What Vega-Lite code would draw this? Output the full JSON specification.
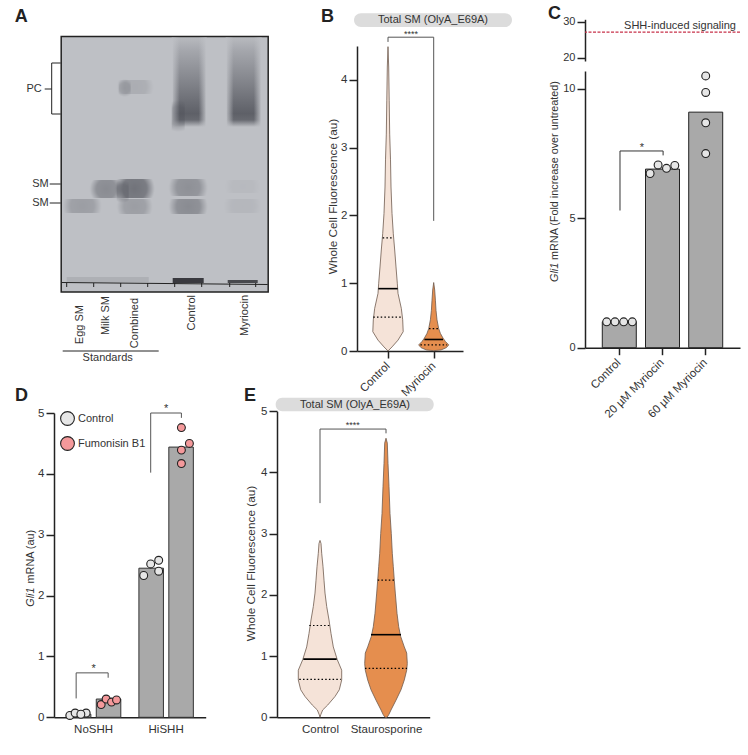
{"$schema":"https://vega.github.io/schema/vega-lite/v6.json","padding":{"left":14,"top":5,"right":0,"bottom":0},"background":"white","bounds":"flush","align":"none","columns":4,"spacing":{"column":10,"row":30},"resolve":{"scale":{"fill":"independent"},"legend":{"fill":"independent"}},
"config":{"view":{"stroke":null},"text":{"font":"Liberation Sans","fontSize":11,"color":"#333"},"axis":{"grid":false,"labelFont":"Liberation Sans","titleFont":"Liberation Sans","labelFontSize":11.5,"titleFontSize":11.8,"titleFontWeight":"normal","labelColor":"#333","titleColor":"#333","domainColor":"#222","tickColor":"#222","domainWidth":1.5,"tickWidth":1.5,"tickSize":8,"labelPadding":2}},
"concat":[
{"width":213,"height":360,"layer":[
{"data":{"values":[{"a":60.5,"b":267.5,"c":36.5,"d":292}]},"mark":{"type":"rect","fill":"#bec0c5","stroke":"#222","strokeWidth":1.5},"encoding":{"x":{"field":"a","type":"quantitative","scale":{"domain":[53.3,266.3],"range":[0,213],"nice":false,"zero":false},"axis":null},"x2":{"field":"b"},"y":{"field":"c","type":"quantitative","scale":{"domain":[10,370],"range":[0,360],"nice":false,"zero":false},"axis":null},"y2":{"field":"d"}}},
{"data":{"values":[{"a":172,"b":205,"c":38,"d":127,"o":1},{"a":226,"b":260,"c":38,"d":127,"o":1}]},
"mark":{"type":"rect","fill":{"gradient":"linear","x1":0,"y1":0,"x2":0,"y2":1,"stops":[{"offset":0,"color":"rgba(70,72,80,0.06)"},{"offset":0.15,"color":"rgba(70,72,80,0.22)"},{"offset":0.5,"color":"rgba(70,72,80,0.5)"},{"offset":0.85,"color":"rgba(70,72,80,0.8)"},{"offset":0.92,"color":"rgba(70,72,80,0.72)"},{"offset":1,"color":"rgba(70,72,80,0)"}]}},"encoding":{"x":{"field":"a","type":"quantitative"},"x2":{"field":"b"},"y":{"field":"c","type":"quantitative"},"y2":{"field":"d"},"opacity":{"field":"o","type":"quantitative","scale":null}}},
{"data":{"values":[{"a":171,"b":179,"c":37.5,"d":128},{"a":225,"b":233,"c":37.5,"d":128}]},"mark":{"type":"rect","fill":{"gradient":"linear","x1":0,"y1":0,"x2":1,"y2":0,"stops":[{"offset":0,"color":"rgba(190,192,197,1)"},{"offset":1,"color":"rgba(190,192,197,0)"}]}},"encoding":{"x":{"field":"a","type":"quantitative"},"x2":{"field":"b"},"y":{"field":"c","type":"quantitative"},"y2":{"field":"d"}}},
{"data":{"values":[{"a":198,"b":206,"c":37.5,"d":128},{"a":253,"b":261,"c":37.5,"d":128}]},"mark":{"type":"rect","fill":{"gradient":"linear","x1":0,"y1":0,"x2":1,"y2":0,"stops":[{"offset":0,"color":"rgba(190,192,197,0)"},{"offset":1,"color":"rgba(190,192,197,1)"}]}},"encoding":{"x":{"field":"a","type":"quantitative"},"x2":{"field":"b"},"y":{"field":"c","type":"quantitative"},"y2":{"field":"d"}}},
{"data":{"values":[
{"a":171,"b":184,"c":100,"d":132,"o":0.35},
{"a":116,"b":153,"c":80,"d":94,"o":0.2},{"a":118,"b":130,"c":79,"d":97,"o":0.28},
{"a":89,"b":122,"c":180,"d":198,"o":0.55},{"a":114,"b":154,"c":179,"d":198,"o":0.8},{"a":116,"b":128,"c":180,"d":203,"o":0.35},{"a":168,"b":207,"c":179,"d":196,"o":0.5},{"a":224,"b":260,"c":180,"d":193,"o":0.07},
{"a":62,"b":101,"c":199,"d":213,"o":0.36},{"a":116,"b":152,"c":199,"d":214,"o":0.36},{"a":168,"b":207,"c":199,"d":214,"o":0.55},{"a":223,"b":261,"c":199,"d":213,"o":0.1}]},
"mark":{"type":"rect","fill":{"gradient":"radial","x1":0.5,"y1":0.5,"r1":0,"x2":0.5,"y2":0.5,"r2":0.5,"stops":[{"offset":0,"color":"rgba(70,72,80,0.8)"},{"offset":0.6,"color":"rgba(70,72,80,0.7)"},{"offset":1,"color":"rgba(70,72,80,0)"}]}},"encoding":{"x":{"field":"a","type":"quantitative"},"x2":{"field":"b"},"y":{"field":"c","type":"quantitative"},"y2":{"field":"d"},"opacity":{"field":"o","type":"quantitative","scale":null}}},
{"data":{"values":[{"a":172,"b":203,"c":278,"d":283,"o":0.9},{"a":227,"b":257,"c":280,"d":283,"o":0.8},{"a":66,"b":148,"c":277,"d":282,"o":0.1}]},"mark":{"type":"rect","fill":"#2a2a30"},"encoding":{"x":{"field":"a","type":"quantitative"},"x2":{"field":"b"},"y":{"field":"c","type":"quantitative"},"y2":{"field":"d"},"opacity":{"field":"o","type":"quantitative","scale":null}}},
{"data":{"values":[
{"id":"gel","i":0,"x":61,"y":282.5},{"id":"gel","i":1,"x":267,"y":284.5},
{"id":"pc","i":0,"x":60,"y":63},{"id":"pc","i":1,"x":51,"y":63},{"id":"pc","i":2,"x":51,"y":114},{"id":"pc","i":3,"x":60,"y":114},
{"id":"pct","i":0,"x":44,"y":89},{"id":"pct","i":1,"x":51,"y":89},
{"id":"sm1","i":0,"x":49,"y":184},{"id":"sm1","i":1,"x":60,"y":184},
{"id":"sm2","i":0,"x":49,"y":203},{"id":"sm2","i":1,"x":60,"y":203},
{"id":"std","i":0,"x":62,"y":351},{"id":"std","i":1,"x":158,"y":351},
{"id":"l1","i":0,"x":66,"y":283},{"id":"l1","i":1,"x":66,"y":287},{"id":"l2","i":0,"x":93,"y":283},{"id":"l2","i":1,"x":93,"y":287},{"id":"l3","i":0,"x":120,"y":283},{"id":"l3","i":1,"x":120,"y":287},{"id":"l4","i":0,"x":147,"y":283},{"id":"l4","i":1,"x":147,"y":287},{"id":"l5","i":0,"x":174,"y":283},{"id":"l5","i":1,"x":174,"y":287},{"id":"l6","i":0,"x":201,"y":283},{"id":"l6","i":1,"x":201,"y":287},{"id":"l7","i":0,"x":229,"y":283},{"id":"l7","i":1,"x":229,"y":287},{"id":"l8","i":0,"x":255,"y":283},{"id":"l8","i":1,"x":255,"y":287}]},
"mark":{"type":"line","color":"#222","strokeWidth":1,"interpolate":"linear"},"encoding":{"x":{"field":"x","type":"quantitative"},"y":{"field":"y","type":"quantitative"},"detail":{"field":"id"},"order":{"field":"i"}}},
{"data":{"values":[{"t":"PC","x":41,"y":89},{"t":"SM","x":48,"y":184},{"t":"SM","x":48,"y":203}]},"mark":{"type":"text","align":"right","baseline":"middle"},"encoding":{"x":{"field":"x","type":"quantitative"},"y":{"field":"y","type":"quantitative"},"text":{"field":"t"}}},
{"data":{"values":[{"t":"Egg SM","x":79,"y":305},{"t":"Milk SM","x":105,"y":296},{"t":"Combined","x":134,"y":298},{"t":"Control","x":191,"y":295},{"t":"Myriocin","x":244,"y":295}]},"mark":{"type":"text","align":"right","baseline":"middle","angle":270},"encoding":{"x":{"field":"x","type":"quantitative"},"y":{"field":"y","type":"quantitative"},"text":{"field":"t"}}},
{"data":{"values":[{"t":"Standards","x":107,"y":358}]},"mark":{"type":"text","align":"center","baseline":"middle"},"encoding":{"x":{"field":"x","type":"quantitative"},"y":{"field":"y","type":"quantitative"},"text":{"field":"t"}}},
{"data":{"values":[{"t":"A","x":14,"y":22}]},"mark":{"type":"text","align":"left","baseline":"alphabetic","fontSize":18,"fontWeight":"bold","color":"#222"},"encoding":{"x":{"field":"x","type":"quantitative"},"y":{"field":"y","type":"quantitative"},"text":{"field":"t"}}}
]},
{"width":69.7,"height":10,"data":{"values":[{"a":0}]},"mark":{"type":"point","opacity":0},"encoding":{}},
{"width":218,"height":341,"layer":[
{"data":{"values":[{"a":-3,"b":155,"c":4.985,"d":4.78}]},"mark":{"type":"rect","fill":"#dcdcdc","cornerRadius":7},"encoding":{"x":{"field":"a","type":"quantitative","scale":{"domain":[0,106],"range":[0,106],"nice":false,"zero":false},"axis":{"values":[31,76.7],"labelExpr":"datum.value<50?'Control':'Myriocin'","labelAngle":-45,"labelAlign":"right","labelBaseline":"middle","title":null,"tickSize":7,"labelPadding":6}},"x2":{"field":"b"},"y":{"field":"c","type":"quantitative","scale":{"domain":[0,4.5],"range":[341,36],"nice":false,"zero":false},"axis":{"values":[0,1,2,3,4],"format":"d","title":"Whole Cell Fluorescence (au)","titleX":-19,"titleY":186}},"y2":{"field":"d"}}},
{"data":{"values":[{"t":"Total SM (OlyA_E69A)","x":76,"y":4.88}]},"mark":{"type":"text","baseline":"middle"},"encoding":{"x":{"field":"x","type":"quantitative"},"y":{"field":"y","type":"quantitative"},"text":{"field":"t"}}},
{"data":{"values":[
{"g":"Control","v":0,"lo":31,"hi":31},{"g":"Control","v":0.06,"lo":27,"hi":35},{"g":"Control","v":0.16,"lo":21,"hi":41},{"g":"Control","v":0.285,"lo":15.8,"hi":46.2},{"g":"Control","v":0.46,"lo":16.3,"hi":45.7},{"g":"Control","v":0.63,"lo":17.7,"hi":44.3},{"g":"Control","v":0.85,"lo":21,"hi":41},{"g":"Control","v":1.0,"lo":21.7,"hi":40.3},{"g":"Control","v":1.24,"lo":23,"hi":39},{"g":"Control","v":1.49,"lo":24.3,"hi":37.7},{"g":"Control","v":1.73,"lo":25.7,"hi":36.3},{"g":"Control","v":2.03,"lo":27,"hi":35},{"g":"Control","v":2.42,"lo":28,"hi":34},{"g":"Control","v":2.82,"lo":28.5,"hi":33.5},{"g":"Control","v":3.2,"lo":29.3,"hi":32.7},{"g":"Control","v":3.7,"lo":29.8,"hi":32.2},{"g":"Control","v":4.19,"lo":30.3,"hi":31.7},{"g":"Control","v":4.49,"lo":31,"hi":31},
{"g":"Treated","v":0.005,"lo":76.7,"hi":76.7},{"g":"Treated","v":0.015,"lo":69.4,"hi":84},{"g":"Treated","v":0.05,"lo":64,"hi":89.4},{"g":"Treated","v":0.09,"lo":61.7,"hi":91.7},{"g":"Treated","v":0.14,"lo":65,"hi":88.4},{"g":"Treated","v":0.19,"lo":67.4,"hi":86},{"g":"Treated","v":0.26,"lo":70,"hi":83.4},{"g":"Treated","v":0.33,"lo":71.7,"hi":81.7},{"g":"Treated","v":0.46,"lo":73.4,"hi":80},{"g":"Treated","v":0.6,"lo":74.4,"hi":79},{"g":"Treated","v":0.75,"lo":75,"hi":78.4},{"g":"Treated","v":0.9,"lo":75.7,"hi":77.7},{"g":"Treated","v":1.01,"lo":76.7,"hi":76.7}]},
"mark":{"type":"area","orient":"horizontal","stroke":"#6e5a4e","strokeWidth":0.8},"encoding":{"x":{"field":"lo","type":"quantitative"},"x2":{"field":"hi"},"y":{"field":"v","type":"quantitative"},"fill":{"field":"g","type":"nominal","scale":{"domain":["Control","Treated"],"range":["#f5e3d8","#e58e4e"]},"legend":null}}},
{"data":{"values":[{"lo":21.3,"hi":40.7,"v":0.92},{"lo":67.4,"hi":86,"v":0.17}]},"mark":{"type":"rule","color":"#000","strokeWidth":1.6},"encoding":{"x":{"field":"lo","type":"quantitative"},"x2":{"field":"hi"},"y":{"field":"v","type":"quantitative"}}},
{"data":{"values":[{"lo":16.3,"hi":45.7,"v":0.5},{"lo":25.7,"hi":36.3,"v":1.67},{"lo":63.4,"hi":90,"v":0.09},{"lo":72,"hi":81.4,"v":0.33}]},"mark":{"type":"rule","color":"#000","strokeWidth":1.2,"strokeDash":[1.5,2.2]},"encoding":{"x":{"field":"lo","type":"quantitative"},"x2":{"field":"hi"},"y":{"field":"v","type":"quantitative"}}},
{"data":{"values":[{"i":0,"x":31,"y":4.56},{"i":1,"x":31,"y":4.63},{"i":2,"x":76.7,"y":4.63},{"i":3,"x":76.7,"y":1.92}]},"mark":{"type":"line","color":"#555","strokeWidth":1},"encoding":{"x":{"field":"x","type":"quantitative"},"y":{"field":"y","type":"quantitative"},"order":{"field":"i"}}},
{"data":{"values":[{"t":"****","x":54,"y":4.67}]},"mark":{"type":"text","fontSize":9,"baseline":"middle"},"encoding":{"x":{"field":"x","type":"quantitative"},"y":{"field":"y","type":"quantitative"},"text":{"field":"t"}}},
{"data":{"values":[{"t":"B"}]},"mark":{"type":"text","align":"left","baseline":"alphabetic","fontSize":18,"fontWeight":"bold","color":"#222","x":-36,"y":12},"encoding":{"text":{"field":"t"}}}
]},
{"width":155,"height":337.7,"layer":[
{"layer":[
{"data":{"values":[{"v":27.1}]},"mark":{"type":"rule","color":"#c8324a","strokeWidth":1.4,"strokeDash":[3,1.5]},"encoding":{"y":{"field":"v","type":"quantitative","scale":{"domain":[19.08,30.67],"range":[51,9.3],"nice":false,"zero":false},"axis":{"values":[20,30],"title":null,"orient":"left","labelFontSize":11}}}},
{"data":{"values":[{"t":"SHH-induced signaling","v":28.7}]},"mark":{"type":"text","align":"right","baseline":"middle","x":151},"encoding":{"y":{"field":"v","type":"quantitative"},"text":{"field":"t"}}}
]},
{"layer":[
{"data":{"values":[{"g":"Control","v":1},{"g":"20 µM Myriocin","v":6.9},{"g":"60 µM Myriocin","v":9.1}]},"mark":{"type":"bar","width":34,"fill":"#a9a9a9","stroke":"#222","strokeWidth":1},"encoding":{"x":{"field":"g","type":"nominal","sort":null,"scale":{"domain":["Control","20 µM Myriocin","60 µM Myriocin"],"paddingInner":0.213,"paddingOuter":0.4},"axis":{"labelAngle":-45,"labelAlign":"right","labelBaseline":"middle","title":null,"tickSize":7,"labelPadding":6}},"y":{"field":"v","type":"quantitative","scale":{"domain":[0,10.69],"range":[337.7,61],"nice":false},"axis":{"values":[0,5,10],"title":null,"orient":"left","labelFontSize":11}}}},
{"data":{"values":[{"g":"Control","o":-12.6,"v":1},{"g":"Control","o":-4.3,"v":1},{"g":"Control","o":4.4,"v":1},{"g":"Control","o":13,"v":1},{"g":"20 µM Myriocin","o":-12.4,"v":6.73},{"g":"20 µM Myriocin","o":-4.4,"v":7.06},{"g":"20 µM Myriocin","o":4,"v":6.93},{"g":"20 µM Myriocin","o":12.3,"v":7.04},{"g":"60 µM Myriocin","o":0,"v":10.5},{"g":"60 µM Myriocin","o":0,"v":9.86},{"g":"60 µM Myriocin","o":0,"v":8.69},{"g":"60 µM Myriocin","o":0,"v":7.5}]},"mark":{"type":"point","filled":true,"fill":"#e6e6e6","stroke":"#222","strokeWidth":1.1,"size":62,"opacity":1},"encoding":{"x":{"field":"g","type":"nominal"},"xOffset":{"field":"o","type":"quantitative","scale":{"domain":[-17,17],"range":[0,34]}},"y":{"field":"v","type":"quantitative"}}},
{"data":{"values":[{"i":0,"g":"Control","o":0.7,"v":5.3},{"i":1,"g":"Control","o":0.7,"v":7.6},{"i":2,"g":"20 µM Myriocin","o":0.6,"v":7.6},{"i":3,"g":"20 µM Myriocin","o":0.6,"v":7.43}]},"mark":{"type":"line","color":"#333","strokeWidth":1},"encoding":{"x":{"field":"g","type":"nominal"},"xOffset":{"field":"o","type":"quantitative","scale":{"domain":[-17,17],"range":[0,34]}},"y":{"field":"v","type":"quantitative"},"order":{"field":"i"}}},
{"data":{"values":[{"t":"*","g":"Control","o":22.7,"v":7.72}]},"mark":{"type":"text","fontSize":11,"baseline":"middle"},"encoding":{"x":{"field":"g","type":"nominal"},"xOffset":{"field":"o","type":"quantitative","scale":{"domain":[-17,17],"range":[0,34]}},"y":{"field":"v","type":"quantitative"},"text":{"field":"t"}}},
{"data":{"values":[{"t":"Gli1","v":2.54}]},"mark":{"type":"text","angle":270,"align":"left","baseline":"middle","fontStyle":"italic","x":-30,"fontSize":10.8},"encoding":{"y":{"field":"v","type":"quantitative"},"text":{"field":"t"}}},
{"data":{"values":[{"t":"mRNA (Fold increase over untreated)","v":3.39}]},"mark":{"type":"text","angle":270,"align":"left","baseline":"middle","x":-30,"fontSize":10.8},"encoding":{"y":{"field":"v","type":"quantitative"},"text":{"field":"t"}}}
]},
{"data":{"values":[{"t":"C"}]},"mark":{"type":"text","align":"left","baseline":"alphabetic","fontSize":18,"fontWeight":"bold","color":"#222","x":-37,"y":9},"encoding":{"text":{"field":"t"}}}
],"resolve":{"scale":{"y":"independent","xOffset":"independent"},"axis":{"y":"independent"}}},
{"width":213,"height":317.3,"layer":[
{"data":{"values":[{"g":"NoSHH","c":"Control","v":0.05},{"g":"NoSHH","c":"Fumonisin B1","v":0.3},{"g":"HiSHH","c":"Control","v":2.45},{"g":"HiSHH","c":"Fumonisin B1","v":4.44}]},"mark":{"type":"bar","fill":"#a9a9a9","stroke":"#333","strokeWidth":1},"encoding":{"x":{"field":"g","type":"nominal","sort":null,"scale":{"domain":["NoSHH","HiSHH"],"range":[0,151.7],"paddingInner":0.175,"paddingOuter":0.133},"axis":{"labelAngle":0,"title":null,"ticks":false,"labelPadding":6}},"xOffset":{"field":"c","type":"nominal","scale":{"domain":["Control","Fumonisin B1"],"paddingInner":0.18,"paddingOuter":0.09}},"y":{"field":"v","type":"quantitative","scale":{"domain":[0,5],"range":[317.3,13],"nice":false},"axis":{"values":[0,1,2,3,4,5],"format":"d","title":null}}}},
{"data":{"values":[{"g":"NoSHH","c":"Control","o":-23.8,"v":0.03},{"g":"NoSHH","c":"Control","o":-18.5,"v":0.07},{"g":"NoSHH","c":"Control","o":-7.5,"v":0.07},{"g":"NoSHH","c":"Control","o":-12.8,"v":0.05},{"g":"NoSHH","c":"Fumonisin B1","o":7.5,"v":0.21},{"g":"NoSHH","c":"Fumonisin B1","o":12.5,"v":0.3},{"g":"NoSHH","c":"Fumonisin B1","o":17.9,"v":0.25},{"g":"NoSHH","c":"Fumonisin B1","o":22.9,"v":0.285},{"g":"HiSHH","c":"Control","o":-22.5,"v":2.33},{"g":"HiSHH","c":"Control","o":-15.5,"v":2.52},{"g":"HiSHH","c":"Control","o":-7.5,"v":2.58},{"g":"HiSHH","c":"Control","o":-7.5,"v":2.4},{"g":"HiSHH","c":"Fumonisin B1","o":15.2,"v":4.76},{"g":"HiSHH","c":"Fumonisin B1","o":15.2,"v":4.39},{"g":"HiSHH","c":"Fumonisin B1","o":15.2,"v":4.17},{"g":"HiSHH","c":"Fumonisin B1","o":23.2,"v":4.5}]},"mark":{"type":"point","filled":true,"stroke":"#222","strokeWidth":1.1,"size":62,"opacity":1},"encoding":{"x":{"field":"g","type":"nominal"},"xOffset":{"field":"o","type":"quantitative","scale":{"domain":[-36,36],"range":[-6,66]}},"y":{"field":"v","type":"quantitative"},"fill":{"field":"c","type":"nominal","scale":{"domain":["Control","Fumonisin B1"],"range":["#e6e6e6","#f4999b"]},"legend":{"title":null,"orient":"none","legendX":6,"legendY":11,"symbolSize":190,"symbolStrokeColor":"#222","symbolStrokeWidth":1.1,"symbolOpacity":1,"labelFont":"Liberation Sans","labelFontSize":11,"labelColor":"#333","rowPadding":6,"labelOffset":3}}}},
{"data":{"values":[{"b":"a","i":0,"g":"NoSHH","o":-17.5,"v":0.31},{"b":"a","i":1,"g":"NoSHH","o":-17.5,"v":0.73},{"b":"a","i":2,"g":"NoSHH","o":14.5,"v":0.73},{"b":"a","i":3,"g":"NoSHH","o":14.5,"v":0.65},{"b":"b","i":0,"g":"HiSHH","o":-15.5,"v":4.02},{"b":"b","i":1,"g":"HiSHH","o":-15.5,"v":5},{"b":"b","i":2,"g":"HiSHH","o":15.2,"v":5},{"b":"b","i":3,"g":"HiSHH","o":15.2,"v":4.92}]},"mark":{"type":"line","color":"#555","strokeWidth":1},"encoding":{"x":{"field":"g","type":"nominal"},"xOffset":{"field":"o","type":"quantitative","scale":{"domain":[-36,36],"range":[-6,66]}},"y":{"field":"v","type":"quantitative"},"detail":{"field":"b"},"order":{"field":"i"}}},
{"data":{"values":[{"t":"*","g":"NoSHH","o":0,"v":0.8},{"t":"*","g":"HiSHH","o":0,"v":5.06}]},"mark":{"type":"text","baseline":"middle","fontSize":11},"encoding":{"x":{"field":"g","type":"nominal"},"xOffset":{"field":"o","type":"quantitative","scale":{"domain":[-36,36],"range":[-6,66]}},"y":{"field":"v","type":"quantitative"},"text":{"field":"t"}}},
{"data":{"values":[{"t":"Gli1","v":1.817}]},"mark":{"type":"text","angle":270,"align":"left","baseline":"middle","fontStyle":"italic","x":-23,"fontSize":10.8},"encoding":{"y":{"field":"v","type":"quantitative"},"text":{"field":"t"}}},
{"data":{"values":[{"t":"mRNA  (au)","v":2.2}]},"mark":{"type":"text","angle":270,"align":"left","baseline":"middle","x":-23,"fontSize":10.8},"encoding":{"y":{"field":"v","type":"quantitative"},"text":{"field":"t"}}},
{"data":{"values":[{"t":"D"}]},"mark":{"type":"text","align":"left","baseline":"alphabetic","fontSize":18,"fontWeight":"bold","color":"#222","x":-39,"y":1},"encoding":{"text":{"field":"t"}}}
],"resolve":{"scale":{"xOffset":"independent"}}},
{"width":69.7,"height":317.3,"layer":[
{"data":{"values":[{"a":-1.3,"b":156.7,"c":5.22,"d":5.0}]},"mark":{"type":"rect","fill":"#dcdcdc","cornerRadius":6.5},"encoding":{"x":{"field":"a","type":"quantitative","scale":{"domain":[0,152.7],"range":[0,152.7],"nice":false,"zero":false},"axis":{"values":[43,109],"labelExpr":"datum.value<50?'Control':'Staurosporine'","labelAngle":0,"title":null,"ticks":false,"labelPadding":6}},"x2":{"field":"b"},"y":{"field":"c","type":"quantitative","scale":{"domain":[0,5],"range":[317.3,11.3],"nice":false,"zero":false},"axis":{"values":[0,1,2,3,4,5],"format":"d","title":"Whole Cell Fluorescence (au)","titleX":-21,"titleY":163}},"y2":{"field":"d"}}},
{"data":{"values":[{"t":"Total SM (OlyA_E69A)","x":78,"y":5.11}]},"mark":{"type":"text","baseline":"middle"},"encoding":{"x":{"field":"x","type":"quantitative"},"y":{"field":"y","type":"quantitative"},"text":{"field":"t"}}},
{"data":{"values":[
{"g":"Control","v":0,"lo":43,"hi":43},{"g":"Control","v":0.04,"lo":42.3,"hi":43.7},{"g":"Control","v":0.12,"lo":40.3,"hi":45.7},{"g":"Control","v":0.2,"lo":35.3,"hi":50.7},{"g":"Control","v":0.34,"lo":28,"hi":58},{"g":"Control","v":0.45,"lo":23.7,"hi":62.3},{"g":"Control","v":0.61,"lo":21.3,"hi":64.7},{"g":"Control","v":0.77,"lo":21.3,"hi":64.7},{"g":"Control","v":0.94,"lo":25.7,"hi":60.3},{"g":"Control","v":1.15,"lo":29.7,"hi":56.3},{"g":"Control","v":1.37,"lo":32,"hi":54},{"g":"Control","v":1.59,"lo":34,"hi":52},{"g":"Control","v":1.81,"lo":36.3,"hi":49.7},{"g":"Control","v":2.03,"lo":38,"hi":48},{"g":"Control","v":2.24,"lo":39,"hi":47},{"g":"Control","v":2.46,"lo":40,"hi":46},{"g":"Control","v":2.68,"lo":41.3,"hi":44.7},{"g":"Control","v":2.84,"lo":42,"hi":44},{"g":"Control","v":2.89,"lo":43,"hi":43},
{"g":"Treated","v":0,"lo":108,"hi":110},{"g":"Treated","v":0.04,"lo":106.3,"hi":111.7},{"g":"Treated","v":0.12,"lo":104,"hi":114},{"g":"Treated","v":0.28,"lo":99,"hi":119},{"g":"Treated","v":0.45,"lo":94,"hi":124},{"g":"Treated","v":0.61,"lo":90.7,"hi":127.3},{"g":"Treated","v":0.77,"lo":88.3,"hi":129.7},{"g":"Treated","v":0.88,"lo":87.7,"hi":130.3},{"g":"Treated","v":1.05,"lo":88.3,"hi":129.7},{"g":"Treated","v":1.15,"lo":90.7,"hi":127.3},{"g":"Treated","v":1.32,"lo":94.3,"hi":123.7},{"g":"Treated","v":1.48,"lo":96.3,"hi":121.7},{"g":"Treated","v":1.7,"lo":98,"hi":120},{"g":"Treated","v":2.03,"lo":99.7,"hi":118.3},{"g":"Treated","v":2.24,"lo":100.7,"hi":117.3},{"g":"Treated","v":2.46,"lo":101.7,"hi":116.3},{"g":"Treated","v":2.68,"lo":102.7,"hi":115.3},{"g":"Treated","v":3.0,"lo":103.7,"hi":114.3},{"g":"Treated","v":3.33,"lo":105,"hi":113},{"g":"Treated","v":3.77,"lo":106,"hi":112},{"g":"Treated","v":4.15,"lo":107,"hi":111},{"g":"Treated","v":4.48,"lo":107.7,"hi":110.3},{"g":"Treated","v":4.56,"lo":109,"hi":109}]},
"mark":{"type":"area","orient":"horizontal","stroke":"#6e5a4e","strokeWidth":0.8},"encoding":{"x":{"field":"lo","type":"quantitative"},"x2":{"field":"hi"},"y":{"field":"v","type":"quantitative"},"fill":{"field":"g","type":"nominal","scale":{"domain":["Control","Treated"],"range":["#f5e3d8","#e58e4e"]},"legend":null}}},
{"data":{"values":[{"lo":26.3,"hi":59.7,"v":0.95},{"lo":94,"hi":124,"v":1.35}]},"mark":{"type":"rule","color":"#000","strokeWidth":1.6},"encoding":{"x":{"field":"lo","type":"quantitative"},"x2":{"field":"hi"},"y":{"field":"v","type":"quantitative"}}},
{"data":{"values":[{"lo":22.3,"hi":63.7,"v":0.62},{"lo":32.3,"hi":53.7,"v":1.5},{"lo":88,"hi":130,"v":0.8},{"lo":100.7,"hi":117.3,"v":2.24}]},"mark":{"type":"rule","color":"#000","strokeWidth":1.2,"strokeDash":[1.5,2.2]},"encoding":{"x":{"field":"lo","type":"quantitative"},"x2":{"field":"hi"},"y":{"field":"v","type":"quantitative"}}},
{"data":{"values":[{"i":0,"x":43,"y":3.5},{"i":1,"x":43,"y":4.71},{"i":2,"x":109,"y":4.71},{"i":3,"x":109,"y":4.64}]},"mark":{"type":"line","color":"#555","strokeWidth":1},"encoding":{"x":{"field":"x","type":"quantitative"},"y":{"field":"y","type":"quantitative"},"order":{"field":"i"}}},
{"data":{"values":[{"t":"****","x":75.7,"y":4.78}]},"mark":{"type":"text","fontSize":9,"baseline":"middle"},"encoding":{"x":{"field":"x","type":"quantitative"},"y":{"field":"y","type":"quantitative"},"text":{"field":"t"}}},
{"data":{"values":[{"t":"E"}]},"mark":{"type":"text","align":"left","baseline":"alphabetic","fontSize":18,"fontWeight":"bold","color":"#222","x":-33,"y":1},"encoding":{"text":{"field":"t"}}}
]}
]}
